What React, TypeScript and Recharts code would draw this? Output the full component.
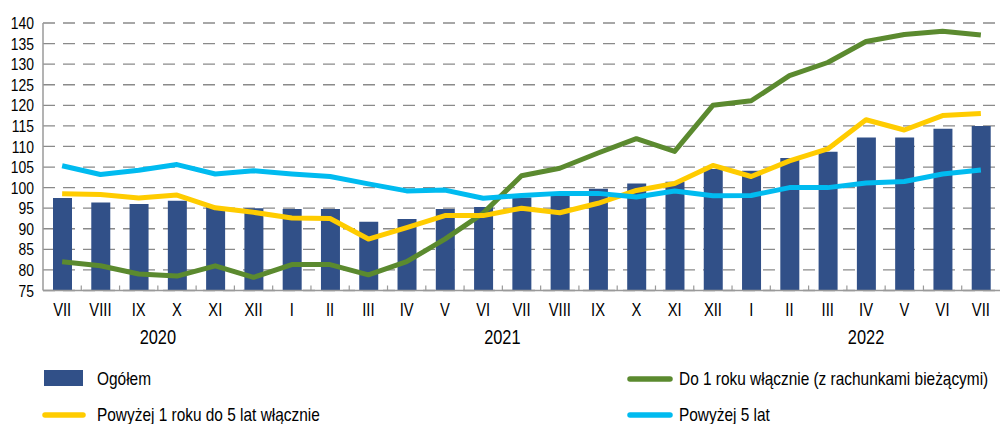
import React from 'react';
import { ComposedChart, Bar, Line, XAxis, YAxis, CartesianGrid } from 'recharts';

const MONTHS = ['VII', 'VIII', 'IX', 'X', 'XI', 'XII', 'I', 'II', 'III', 'IV', 'V', 'VI', 'VII', 'VIII', 'IX', 'X', 'XI', 'XII', 'I', 'II', 'III', 'IV', 'V', 'VI', 'VII'];
const OGOLEM = [97.5, 96.4, 96.0, 96.8, 95.3, 95.0, 94.8, 94.8, 91.7, 92.4, 94.8, 95.3, 97.6, 98.2, 99.7, 101.0, 101.4, 104.5, 104.1, 107.2, 108.7, 112.2, 112.2, 114.3, 115.0];
const DO_1_ROKU = [82.0, 81.0, 79.0, 78.5, 81.0, 78.2, 81.3, 81.3, 78.8, 82.0, 87.5, 93.8, 102.9, 104.7, 108.4, 111.9, 108.8, 120.0, 121.1, 127.2, 130.4, 135.5, 137.2, 138.0, 137.1];
const OD_1_DO_5 = [98.5, 98.3, 97.5, 98.2, 95.1, 94.0, 92.6, 92.5, 87.5, 90.3, 93.2, 93.2, 95.0, 93.9, 96.2, 99.3, 101.0, 105.4, 102.7, 106.5, 109.4, 116.5, 114.0, 117.5, 118.0];
const POW_5_LAT = [105.3, 103.2, 104.2, 105.6, 103.3, 104.1, 103.3, 102.7, 100.9, 99.2, 99.4, 97.4, 98.1, 98.6, 98.6, 97.7, 99.2, 98.0, 98.1, 100.0, 100.0, 101.1, 101.5, 103.3, 104.3];
const YEARS = ['2020', '2021', '2022'];
const YEAR_FIRST = [0, 6, 18];
const YEAR_LAST = [5, 17, 24];
const Y_TICKS = [75, 80, 85, 90, 95, 100, 105, 110, 115, 120, 125, 130, 135, 140];

const NAMES = {
  ogolem: 'Ogółem',
  do1: 'Do 1 roku włącznie (z rachunkami bieżącymi)',
  od1do5: 'Powyżej 1 roku do 5 lat włącznie',
  pow5: 'Powyżej 5 lat',
};
const COLORS = {
  ogolem: '#315088',
  do1: '#5B8A2F',
  od1do5: '#FFCC00',
  pow5: '#00BBF0',
};

const data = MONTHS.map((m, i) => ({
  month: m,
  ogolem: OGOLEM[i],
  do1: DO_1_ROKU[i],
  od1do5: OD_1_DO_5[i],
  pow5: POW_5_LAT[i],
}));

const W = 1003;
const H = 424;
const MARGIN = { top: 23, right: 3, left: 0, bottom: 73.5 };
const Y_AXIS_W = 43;
const N = MONTHS.length;
const BAND = (W - MARGIN.left - MARGIN.right - Y_AXIS_W) / N;
const TICK_SIZE = 8;
const TICK_MARGIN = 5;

const FONT = "'Liberation Sans', Arial, sans-serif";
const SX = 0.82;
const AXIS_GRAY = '#9a9a9a';

const NarrowText = ({ x, y, size, anchor, dy, children }: any) => (
  <text
    x={0}
    y={0}
    dy={dy}
    transform={`translate(${x},${y}) scale(${SX},1)`}
    textAnchor={anchor}
    fontFamily={FONT}
    fontSize={size}
    fill="#000"
  >
    {children}
  </text>
);

const YTick = (p: any) => (
  <NarrowText x={p.x} y={p.y} size={17} anchor="end" dy="0.355em">{p.payload.value}</NarrowText>
);

const MonthTick = (p: any) => {
  const idx = p.index;
  const axisY = p.y - TICK_SIZE - TICK_MARGIN;
  const yearIdx = YEAR_FIRST.indexOf(idx);
  return (
    <g>
      {idx > 0 && (
        <line x1={p.x - BAND / 2} x2={p.x - BAND / 2} y1={axisY} y2={axisY - 5} stroke={AXIS_GRAY} strokeWidth={1.2} />
      )}
      <NarrowText x={p.x} y={p.y} size={18} anchor="middle" dy="0.71em">{p.payload.value}</NarrowText>
      {yearIdx >= 0 && (
        <NarrowText
          x={p.x + ((YEAR_LAST[yearIdx] - YEAR_FIRST[yearIdx]) / 2) * BAND}
          y={p.y + 26.3}
          size={20}
          anchor="middle"
          dy="0.71em"
        >
          {YEARS[yearIdx]}
        </NarrowText>
      )}
    </g>
  );
};

export default function App() {
  return (
    <div style={{ position: 'absolute', left: 0, top: 0, width: W, height: H, background: '#fff' }}>
      <ComposedChart width={W} height={H} data={data} margin={MARGIN}>
        <CartesianGrid
          vertical={false}
          stroke="#8a8a8a"
          strokeWidth={1.3}
          strokeDasharray="12 8"
        />
        <XAxis
          dataKey="month"
          height={60}
          interval={0}
          tickLine={false}
          tickSize={TICK_SIZE}
          tickMargin={TICK_MARGIN}
          axisLine={{ stroke: AXIS_GRAY, strokeWidth: 1.5 }}
          tick={MonthTick}
        />
        <YAxis
          domain={[75, 140]}
          ticks={Y_TICKS}
          interval={0}
          width={Y_AXIS_W}
          tickLine={false}
          tickSize={6}
          tickMargin={3}
          axisLine={{ stroke: AXIS_GRAY, strokeWidth: 1.5 }}
          tick={YTick}
        />
        <Bar dataKey="ogolem" name={NAMES.ogolem} fill={COLORS.ogolem} barSize={19} isAnimationActive={false} />
        <Line dataKey="do1" name={NAMES.do1} stroke={COLORS.do1} strokeWidth={5} dot={false} strokeLinejoin="round" isAnimationActive={false} />
        <Line dataKey="od1do5" name={NAMES.od1do5} stroke={COLORS.od1do5} strokeWidth={5} dot={false} strokeLinejoin="round" isAnimationActive={false} />
        <Line dataKey="pow5" name={NAMES.pow5} stroke={COLORS.pow5} strokeWidth={5} dot={false} strokeLinejoin="round" isAnimationActive={false} />
      </ComposedChart>
      <svg width={W} height={H} style={{ position: 'absolute', left: 0, top: 0, pointerEvents: 'none' }}>
        <rect x={44} y={370} width={39} height={16} fill={COLORS.ogolem} />
        <NarrowText x={97} y={385} size={18.8} anchor="start">{NAMES.ogolem}</NarrowText>
        <line x1={630} y1={379} x2={670} y2={379} stroke={COLORS.do1} strokeWidth={5.5} strokeLinecap="round" />
        <NarrowText x={679} y={385} size={18.8} anchor="start">{NAMES.do1}</NarrowText>
        <line x1={45} y1={415} x2={83} y2={415} stroke={COLORS.od1do5} strokeWidth={5.5} strokeLinecap="round" />
        <NarrowText x={97} y={421} size={18.8} anchor="start">{NAMES.od1do5}</NarrowText>
        <line x1={630} y1={415} x2={670} y2={415} stroke={COLORS.pow5} strokeWidth={5.5} strokeLinecap="round" />
        <NarrowText x={679} y={421} size={18.8} anchor="start">{NAMES.pow5}</NarrowText>
      </svg>
    </div>
  );
}
